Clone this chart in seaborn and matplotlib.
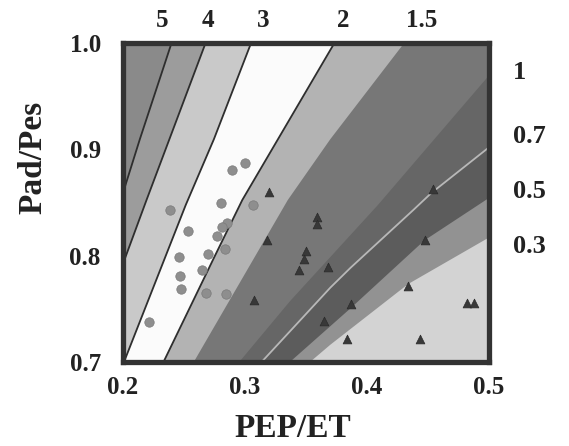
import matplotlib
matplotlib.use("Agg")
import matplotlib.pyplot as plt
import seaborn as sns

# iso-lines entering through the top edge (labelled on top)
iso5_x = [0.2398, 0.2138, 0.2000]
iso5_y = [1.0000, 0.9095, 0.8590]
iso4_x = [0.2677, 0.2193, 0.2000]
iso4_y = [1.0000, 0.8524, 0.7924]
iso3_x = [0.3050, 0.2745, 0.2514, 0.2008]
iso3_y = [1.0000, 0.9095, 0.8476, 0.7000]
iso2_x = [0.3733, 0.2978, 0.2746, 0.2332]
iso2_y = [1.0000, 0.8524, 0.7981, 0.7000]
iso15_x = [0.4305, 0.3699, 0.3351, 0.2580]
iso15_y = [1.0000, 0.9095, 0.8524, 0.7000]

# iso-lines entering through the right edge (labelled on the right)
iso1_x = [0.5000, 0.4089, 0.3368, 0.2953]
iso1_y = [0.9695, 0.8476, 0.7571, 0.7000]
iso07_x = [0.5000, 0.4528, 0.4380, 0.3865, 0.3700, 0.3136]
iso07_y = [0.9019, 0.8590, 0.8430, 0.7886, 0.7700, 0.7000]
iso05_x = [0.5000, 0.4470, 0.3865, 0.3368]
iso05_y = [0.8543, 0.8143, 0.7505, 0.7000]
iso03_x = [0.5000, 0.4337, 0.3699, 0.3533]
iso03_y = [0.8171, 0.7733, 0.7162, 0.7000]

top_labels = ["5", "4", "3", "2", "1.5"]
top_label_x = [0.2320, 0.2697, 0.3148, 0.3803, 0.4451]
right_labels = ["1", "0.7", "0.5", "0.3"]
right_label_y = [0.9718, 0.9116, 0.8599, 0.8082]

x_ticks = [0.2, 0.3, 0.4, 0.5]
y_ticks = [0.7, 0.8, 0.9, 1.0]

# circles
circle_x = [0.3003, 0.2890, 0.2387, 0.2802, 0.3069, 0.2856, 0.2815, 0.2531, 0.2768,
            0.2837, 0.2460, 0.2699, 0.2644, 0.2464, 0.2475, 0.2682, 0.2843, 0.2210]
circle_y = [0.8867, 0.8803, 0.8429, 0.8496, 0.8477, 0.8305, 0.8265, 0.8234, 0.8182,
            0.8067, 0.7991, 0.8017, 0.7865, 0.7810, 0.7691, 0.7651, 0.7644, 0.7375]

# triangles
tri_x = [0.3194, 0.3589, 0.3589, 0.3180, 0.3500, 0.3480, 0.3445, 0.3683, 0.3072,
         0.4539, 0.4473, 0.3865, 0.3644, 0.4335, 0.4821, 0.4877, 0.3832, 0.4431]
tri_y = [0.8598, 0.8363, 0.8301, 0.8148, 0.8044, 0.7972, 0.7863, 0.7891, 0.7582,
         0.8629, 0.8148, 0.7549, 0.7382, 0.7715, 0.7556, 0.7556, 0.7217, 0.7217]

# band shades, left to right
band_colors = ["#8a8a8a", "#9c9c9c", "#c9c9c9", "#fbfbfb", "#b3b3b3",
               "#777777", "#666666", "#5c5c5c", "#929292", "#d3d3d3"]

sns.set_style("white")
plt.rcParams["font.family"] = ["Liberation Serif", "DejaVu Serif"]
plt.rcParams["font.weight"] = "bold"

fig = plt.figure(figsize=(5.69, 4.46), dpi=100)
ax = fig.add_axes([123 / 569, 1 - 362 / 446, 366 / 569, 319 / 446])
ax.set_xlim(0.2, 0.5)
ax.set_ylim(0.7, 1.0)

# paint the bands: each one covers everything to the right of its iso-line
ax.set_facecolor(band_colors[0])
boundaries = [(iso5_x, iso5_y), (iso4_x, iso4_y), (iso3_x, iso3_y), (iso2_x, iso2_y),
              (iso15_x, iso15_y), (iso1_x, iso1_y), (iso07_x, iso07_y),
              (iso05_x, iso05_y), (iso03_x, iso03_y)]
for (bx, by), col in zip(boundaries, band_colors[1:]):
    px = list(bx) + [0.2, 0.5, 0.5]
    py = list(by) + [0.7, 0.7, 1.0]
    ax.fill(px, py, color=col, lw=0, zorder=1)

# drawn iso-lines
for bx, by in [(iso5_x, iso5_y), (iso4_x, iso4_y), (iso3_x, iso3_y), (iso2_x, iso2_y)]:
    sns.lineplot(x=bx, y=by, sort=False, estimator=None, color="#2e2e2e", lw=1.3, ax=ax, zorder=3)
sns.lineplot(x=iso07_x, y=iso07_y, sort=False, estimator=None, color="#b8b8b8", lw=1.3, ax=ax, zorder=3)

sns.scatterplot(x=circle_x, y=circle_y, marker="o", s=46, color="#8e8e8e",
                edgecolor="#7a7a7a", linewidth=0.5, ax=ax, zorder=5)
sns.scatterplot(x=tri_x, y=tri_y, marker="^", s=40, color="#383838",
                edgecolor="#2a2a2a", linewidth=0.5, ax=ax, zorder=5)

for lbl, lx in zip(top_labels, top_label_x):
    ax.annotate(lbl, xy=(lx, 1.0), xytext=(0, 16), textcoords="offset points",
                ha="center", va="center", fontsize=18, fontweight="bold", color="#222222")
for lbl, ly in zip(right_labels, right_label_y):
    ax.annotate(lbl, xy=(0.5, ly), xytext=(17, 0), textcoords="offset points",
                ha="left", va="center", fontsize=19, fontweight="bold", color="#222222")

ax.set_xticks(x_ticks)
ax.set_xticklabels([f"{v:.1f}" for v in x_ticks])
ax.set_yticks(y_ticks)
ax.set_yticklabels([f"{v:.1f}" for v in y_ticks])
ax.tick_params(axis="both", length=0, labelsize=18, colors="#222222")
ax.tick_params(axis="x", pad=10)
ax.tick_params(axis="y", pad=16)
for t in ax.get_xticklabels() + ax.get_yticklabels():
    t.set_fontweight("bold")

ax.set_xlabel("PEP/ET", fontsize=24, fontweight="bold", color="#222222")
ax.xaxis.set_label_coords(0.463, -0.16)
ax.set_ylabel("Pad/Pes", fontsize=24, fontweight="bold", color="#222222")
ax.yaxis.set_label_coords(-0.205, 0.64)

for sp in ax.spines.values():
    sp.set_visible(True)
    sp.set_linewidth(3.8)
    sp.set_color("#333333")
    sp.set_zorder(10)

fig.savefig("out.png", dpi=100)
